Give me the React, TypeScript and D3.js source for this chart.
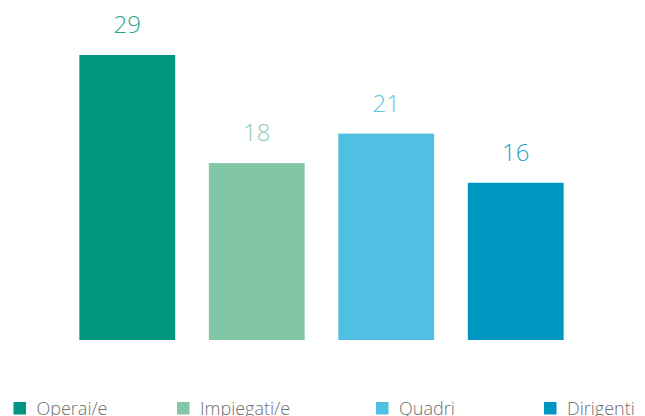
import React from "react";
import * as d3 from "d3";

const categories = ["Operai/e", "Impiegati/e", "Quadri", "Dirigenti"];
const values = [29, 18, 21, 16];
const barColors = ["#009680", "#82c6a8", "#4fbfe2", "#0096c2"];
const labelColors = ["#2aa58f", "#8fccb1", "#62c6e4", "#2a9fcb"];
const legendX = [13.5, 177, 376, 544];

export default function App() {
  const W = 645, H = 416;
  const x = d3.scaleBand<string>().domain(categories).range([47, 596]).paddingInner(0.26).paddingOuter(0.25);
  const y = d3.scaleLinear().domain([0, 29]).range([340, 55]);
  return (
    <svg width={W} height={H} style={{ position: "absolute", left: 0, top: 0, fontFamily: "'Open Sans', Lato, sans-serif" }}>
      {categories.map((c, i) => (
        <g key={c}>
          <rect x={x(c)} y={y(values[i])} width={x.bandwidth()} height={y(0) - y(values[i])} fill={barColors[i]} />
          <text x={(x(c) ?? 0) + x.bandwidth() / 2} y={y(values[i]) - 22} textAnchor="middle" fontSize={24} fontWeight={300} fill={labelColors[i]}>
            {values[i]}
          </text>
        </g>
      ))}
      {categories.map((c, i) => (
        <g key={"l" + c}>
          <rect x={legendX[i]} y={402} width={12.5} height={12.5} fill={barColors[i]} />
          <text x={legendX[i] + 23} y={415} fontSize={18} fontWeight={300} fill="#6f6f6f">{c}</text>
        </g>
      ))}
    </svg>
  );
}
